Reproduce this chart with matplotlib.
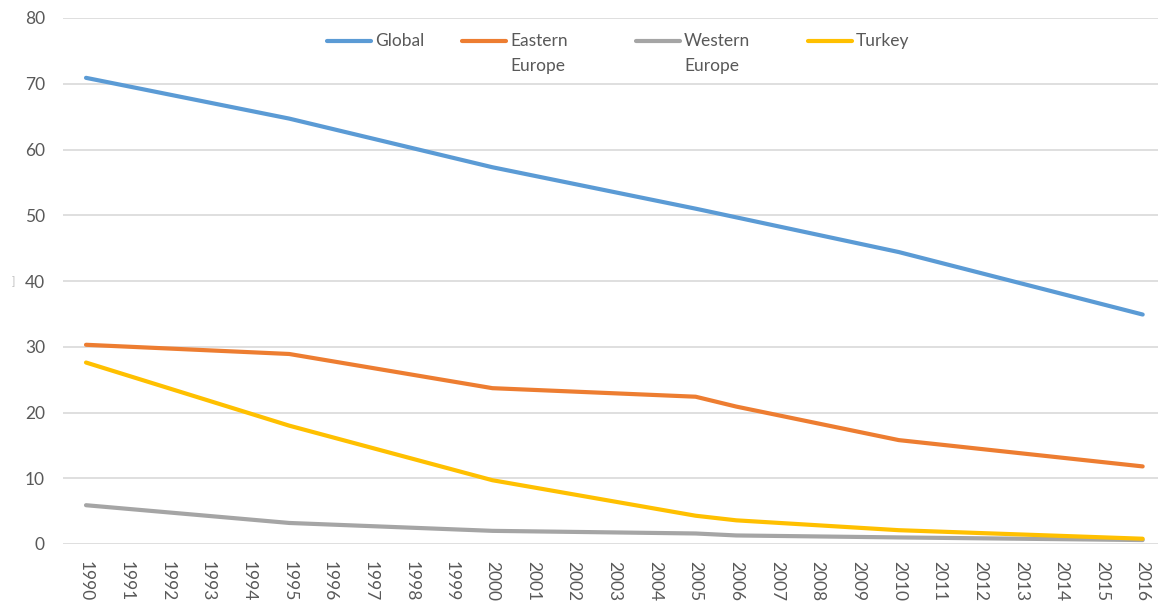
import matplotlib
matplotlib.use('Agg')
import matplotlib.pyplot as plt
from matplotlib.lines import Line2D

plt.rcParams['font.family'] = ['Lato', 'DejaVu Sans']

# category axis
years = [str(y) for y in range(1990, 2017)]

# series (only the years where the line changes direction)
global_years = [1990, 1995, 2000, 2005, 2010, 2016]
global_vals = [70.9, 64.7, 57.3, 51.0, 44.4, 34.9]

eastern_years = [1990, 1995, 2000, 2005, 2006, 2010, 2016]
eastern_vals = [30.3, 28.9, 23.7, 22.4, 20.9, 15.8, 11.8]

western_years = [1990, 1995, 2000, 2005, 2006, 2010, 2016]
western_vals = [5.9, 3.2, 2.0, 1.6, 1.3, 1.0, 0.6]

turkey_years = [1990, 1995, 2000, 2005, 2006, 2010, 2016]
turkey_vals = [27.6, 18.0, 9.7, 4.3, 3.6, 2.1, 0.8]

y_ticks = [0, 10, 20, 30, 40, 50, 60, 70, 80]

series = [
    ('Global', global_years, global_vals, '#5B9BD5'),
    ('Eastern\nEurope', eastern_years, eastern_vals, '#ED7D31'),
    ('Western\nEurope', western_years, western_vals, '#A5A5A5'),
    ('Turkey', turkey_years, turkey_vals, '#FFC000'),
]

W, H = 1158, 604
fig = plt.figure(figsize=(W / 100, H / 100), dpi=100)
ax = fig.add_axes([63 / W, 60 / H, 1100 / W, 526 / H])

for name, yrs, vals, col in series:
    pos = [years.index(str(y)) for y in yrs]
    ax.plot(pos, vals, color=col, lw=3.0, solid_capstyle='round', zorder=3)

# 1990 sits a bit more than half a category from the left edge
ax.set_xlim(-0.566, len(years) - 0.5)
ax.set_ylim(0, 80)
ax.set_yticks(y_ticks)
ax.set_xticks(range(len(years)))
ax.set_xticklabels(years, rotation=-90)
ax.tick_params(length=0, labelsize=12.5, colors='#595959')
ax.tick_params(axis='y', pad=13)
ax.tick_params(axis='x', pad=12)
ax.grid(axis='y', color='#D9D9D9', lw=1.2)
ax.set_axisbelow(True)
for s in ax.spines.values():
    s.set_visible(False)

# legend drawn by hand so the key lines sit on the first text line
leg_x = [327, 462, 636, 808]
for (name, yrs, vals, col), x0 in zip(series, leg_x):
    yy = 1 - 41 / H
    fig.add_artist(Line2D([x0 / W, (x0 + 44) / W], [yy, yy], color=col, lw=3.0,
                          solid_capstyle='round', transform=fig.transFigure))
    fig.text((x0 + 48) / W, 1 - 33 / H, name, color='#595959', fontsize=12.5,
             ha='left', va='top', linespacing=1.7)

# remnant of a clipped axis title
fig.text(13 / W, 1 - 282 / H, ']', color='#BFBFBF', fontsize=8, ha='center', va='center')

fig.savefig('out.png', dpi=100, facecolor='white')
